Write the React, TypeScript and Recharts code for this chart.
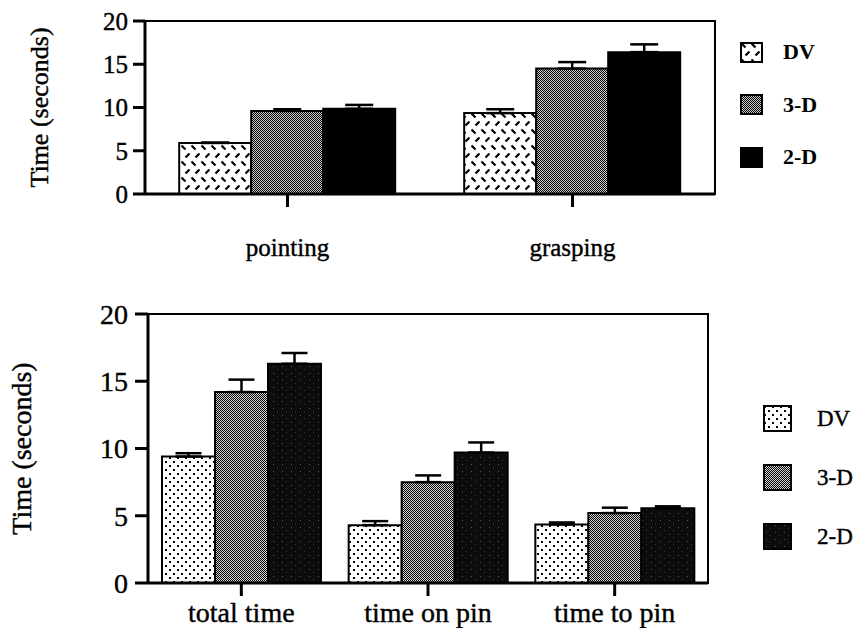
import React from 'react';
import { BarChart, Bar, XAxis, YAxis, ErrorBar, ReferenceArea, Legend } from 'recharts';

// upper panel: pointing / grasping
const TOP_CATEGORIES = ['pointing', 'grasping'];
const TOP_DV = [5.9, 9.35];
const TOP_DV_ERR = [0.05, 0.45];
const TOP_3D = [9.6, 14.5];
const TOP_3D_ERR = [0.2, 0.75];
const TOP_2D = [9.85, 16.4];
const TOP_2D_ERR = [0.45, 0.9];

// lower panel: total / on pin / to pin
const BOTTOM_CATEGORIES = ['total time', 'time on pin', 'time to pin'];
const BOTTOM_DV = [9.4, 4.3, 4.35];
const BOTTOM_DV_ERR = [0.25, 0.3, 0.15];
const BOTTOM_3D = [14.2, 7.5, 5.2];
const BOTTOM_3D_ERR = [0.92, 0.5, 0.4];
const BOTTOM_2D = [16.3, 9.7, 5.55];
const BOTTOM_2D_ERR = [0.8, 0.75, 0.15];

const Y_TICKS = [0, 5, 10, 15, 20];
const SERIES_NAMES = ['DV', '3-D', '2-D'];
const FONT = 'Liberation Serif';

const buildRows = (cats: string[], dv: number[], dvE: number[], d3: number[], d3E: number[], d2: number[], d2E: number[]) =>
  cats.map((name, i) => ({
    name,
    dv: dv[i],
    dvErr: [0, dvE[i]],
    d3: d3[i],
    d3Err: [0, d3E[i]],
    d2: d2[i],
    d2Err: [0, d2E[i]],
  }));

const topData = buildRows(TOP_CATEGORIES, TOP_DV, TOP_DV_ERR, TOP_3D, TOP_3D_ERR, TOP_2D, TOP_2D_ERR);
const bottomData = buildRows(BOTTOM_CATEGORIES, BOTTOM_DV, BOTTOM_DV_ERR, BOTTOM_3D, BOTTOM_3D_ERR, BOTTOM_2D, BOTTOM_2D_ERR);

const YTitle = (props: any) => {
  const { viewBox, posX, size } = props;
  const cy = viewBox.y + viewBox.height / 2;
  return (
    <text
      x={posX}
      y={cy}
      transform={`rotate(-90 ${posX} ${cy})`}
      textAnchor="middle"
      dominantBaseline="central"
      fill="#000"
      stroke="#000"
      strokeWidth={0.4}
      style={{ fontFamily: FONT, fontSize: size }}
    >
      Time (seconds)
    </text>
  );
};

const makeLegend = (iconW: number, iconH: number, rowH: number, gap: number, fontSize: number, bold: boolean) =>
  ({ payload }: any) => {
    const items = [...(payload || [])].sort(
      (a: any, b: any) => SERIES_NAMES.indexOf(a.value) - SERIES_NAMES.indexOf(b.value)
    );
    return (
      <div>
        {items.map((entry: any) => (
          <div key={entry.value} style={{ display: 'flex', alignItems: 'center', height: rowH }}>
            <svg width={iconW} height={iconH} style={{ display: 'block' }}>
              <rect x={1} y={1} width={iconW - 2} height={iconH - 2} fill={entry.color} stroke="#000" strokeWidth={2} />
            </svg>
            <span
              style={{
                marginLeft: gap,
                fontSize,
                fontWeight: bold ? 'bold' : 'normal',
                fontFamily: FONT,
                color: '#000',
                lineHeight: 1,
                WebkitTextStroke: bold ? '0' : '0.4px #000',
              }}
            >
              {entry.value}
            </span>
          </div>
        ))}
      </div>
    );
  };

const axisStroke = { stroke: '#000', strokeWidth: 3 };
const tickFont = (size: number) => ({
  fontSize: size,
  fill: '#000',
  stroke: '#000',
  strokeWidth: 0.4,
  fontFamily: FONT,
  style: { fontFamily: FONT },
});

export default function App() {
  return (
    <div style={{ position: 'absolute', left: 0, top: 0, width: 858, height: 628, background: '#fff', fontFamily: FONT }}>
      <div style={{ position: 'absolute', left: 0, top: 0 }}>
        <BarChart
          width={858}
          height={270}
          data={topData}
          margin={{ top: 21, right: 143, left: 0, bottom: 0 }}
          barCategoryGap="12%"
          barGap={0}
          style={{ fontFamily: FONT }}
        >
          <defs>
            <pattern id="hatchTop" width="10" height="16" patternUnits="userSpaceOnUse">
              <rect width="10" height="16" fill="#fff" />
              <path d="M1.5 1.5 L5.5 5.5 M5.5 13.5 L9.5 9.5" stroke="#000" strokeWidth="2.2" />
            </pattern>
            <pattern id="grayTop" width="2" height="2" patternUnits="userSpaceOnUse">
              <rect width="2" height="2" fill="#cfcfcf" />
              <rect width="1" height="1" fill="#000" />
              <rect x="1" y="1" width="1" height="1" fill="#000" />
            </pattern>
          </defs>
          <ReferenceArea y1={0} y2={20} fill="none" stroke="#000" strokeWidth={2} ifOverflow="visible" />
          <XAxis
            dataKey="name"
            height={76}
            tickSize={13}
            tickMargin={31}
            axisLine={axisStroke}
            tickLine={axisStroke}
            tick={tickFont(25)}
          />
          <YAxis
            width={145}
            domain={[0, 20]}
            ticks={Y_TICKS}
            tickSize={12}
            tickMargin={5}
            axisLine={axisStroke}
            tickLine={axisStroke}
            tick={tickFont(25)}
            label={<YTitle posX={39} size={26} />}
          />
          <Legend
            layout="vertical"
            align="center"
            verticalAlign="middle"
            wrapperStyle={{ left: 740, top: 26, width: 110 }}
            content={makeLegend(23, 21, 52.5, 20, 22, true)}
          />
          <Bar dataKey="dv" name="DV" fill="url(#hatchTop)" stroke="#000" strokeWidth={2} isAnimationActive={false}>
            <ErrorBar dataKey="dvErr" width={14} stroke="#000" strokeWidth={2.5} />
          </Bar>
          <Bar dataKey="d3" name="3-D" fill="url(#grayTop)" stroke="#000" strokeWidth={2} isAnimationActive={false}>
            <ErrorBar dataKey="d3Err" width={14} stroke="#000" strokeWidth={2.5} />
          </Bar>
          <Bar dataKey="d2" name="2-D" fill="#000" stroke="#000" strokeWidth={2} isAnimationActive={false}>
            <ErrorBar dataKey="d2Err" width={14} stroke="#000" strokeWidth={2.5} />
          </Bar>
        </BarChart>
      </div>

      <div style={{ position: 'absolute', left: 0, top: 280 }}>
        <BarChart
          width={858}
          height={348}
          data={bottomData}
          margin={{ top: 34, right: 150, left: 0, bottom: 0 }}
          barCategoryGap="7.5%"
          barGap={0}
          style={{ fontFamily: FONT }}
        >
          <defs>
            <pattern id="dotsBottom" width="8" height="8" patternUnits="userSpaceOnUse">
              <rect width="8" height="8" fill="#fff" />
              <rect x="1" y="1" width="2" height="2" fill="#000" />
              <rect x="5" y="5" width="2" height="2" fill="#000" />
            </pattern>
            <pattern id="grayBottom" width="2" height="2" patternUnits="userSpaceOnUse">
              <rect width="2" height="2" fill="#d8d8d8" />
              <rect width="1" height="1" fill="#000" />
              <rect x="1" y="1" width="1" height="1" fill="#000" />
            </pattern>
            <pattern id="darkBottom" width="9" height="7" patternUnits="userSpaceOnUse">
              <rect width="9" height="7" fill="#0c0c0c" />
              <rect x="3" y="2" width="1" height="1" fill="#555" />
              <rect x="7" y="5" width="1" height="1" fill="#3a3a3a" />
            </pattern>
          </defs>
          <ReferenceArea y1={0} y2={20} fill="none" stroke="#000" strokeWidth={2} ifOverflow="visible" />
          <XAxis
            dataKey="name"
            height={45}
            tickSize={13}
            tickMargin={6}
            axisLine={axisStroke}
            tickLine={axisStroke}
            tick={tickFont(28)}
          />
          <YAxis
            width={148}
            domain={[0, 20]}
            ticks={Y_TICKS}
            tickSize={13}
            tickMargin={7}
            axisLine={axisStroke}
            tickLine={axisStroke}
            tick={tickFont(28)}
            label={<YTitle posX={21} size={28} />}
          />
          <Legend
            layout="vertical"
            align="center"
            verticalAlign="middle"
            wrapperStyle={{ left: 763, top: 109, width: 95 }}
            content={makeLegend(29, 27, 59, 25, 23, false)}
          />
          <Bar dataKey="dv" name="DV" fill="url(#dotsBottom)" stroke="#000" strokeWidth={2} isAnimationActive={false}>
            <ErrorBar dataKey="dvErr" width={13} stroke="#000" strokeWidth={2.5} />
          </Bar>
          <Bar dataKey="d3" name="3-D" fill="url(#grayBottom)" stroke="#000" strokeWidth={2} isAnimationActive={false}>
            <ErrorBar dataKey="d3Err" width={13} stroke="#000" strokeWidth={2.5} />
          </Bar>
          <Bar dataKey="d2" name="2-D" fill="url(#darkBottom)" stroke="#000" strokeWidth={2} isAnimationActive={false}>
            <ErrorBar dataKey="d2Err" width={13} stroke="#000" strokeWidth={2.5} />
          </Bar>
        </BarChart>
      </div>
    </div>
  );
}
